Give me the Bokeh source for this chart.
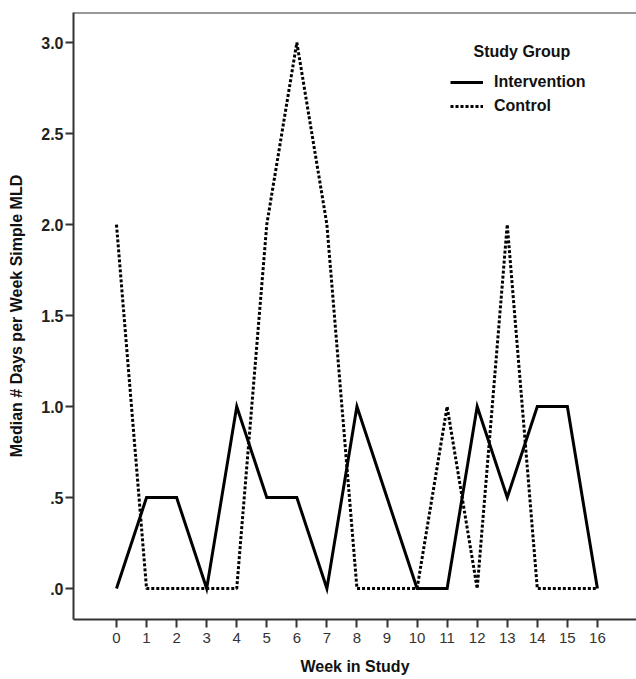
from bokeh.plotting import figure
from bokeh.models import Legend, LegendItem, Label, Span, FixedTicker, Range1d
from bokeh.embed import file_html
from bokeh.resources import INLINE

weeks = list(range(17))
intervention = [0, 0.5, 0.5, 0, 1, 0.5, 0.5, 0, 1, 0.5, 0, 0, 1, 0.5, 1, 1, 0]
control = [2, 0, 0, 0, 0, 2, 3, 2, 0, 0, 0, 1, 0, 2, 0, 0, 0]
y_ticks = [0, 0.5, 1.0, 1.5, 2.0, 2.5, 3.0]
y_tick_labels = [".0", ".5", "1.0", "1.5", "2.0", "2.5", "3.0"]
series_names = ["Intervention", "Control"]
legend_title = "Study Group"
x_title = "Week in Study"
y_title = "Median # Days per Week Simple MLD"

FONT = "Liberation Sans"
AX = "#333333"

p = figure(width=636, height=679, output_backend="svg", toolbar_location=None,
           x_range=Range1d(-1.43, 17.30), y_range=Range1d(-0.170, 3.165),
           min_border_left=73, min_border_top=12, min_border_right=0, min_border_bottom=60)
p.outline_line_color = None
p.grid.visible = False
p.background_fill_color = "white"

r1 = p.line(weeks, intervention, line_color="black", line_width=3, line_join="miter")
r2 = p.line(weeks, control, line_color="black", line_width=3, line_dash="3 2")

top = Span(location=3.165, dimension="width", line_color=AX, line_width=2)
p.add_layout(top)

xa = p.xaxis[0]
xa.ticker = FixedTicker(ticks=weeks)
xa.minor_tick_line_color = None
xa.major_tick_in = 0
xa.major_tick_out = 8
xa.major_tick_line_color = AX
xa.major_tick_line_width = 2
xa.axis_line_color = AX
xa.axis_line_width = 2
xa.major_label_text_font = FONT
xa.major_label_text_font_size = "15px"
xa.major_label_text_color = "#333333"
xa.major_label_standoff = 5
xa.axis_label = x_title
xa.axis_label_text_font = FONT
xa.axis_label_text_font_style = "bold"
xa.axis_label_text_font_size = "16px"
xa.axis_label_text_color = "#111111"
xa.axis_label_standoff = 12

ya = p.yaxis[0]
ya.ticker = FixedTicker(ticks=y_ticks)
ya.major_label_overrides = {t: l for t, l in zip(y_ticks, y_tick_labels)}
ya.minor_tick_line_color = None
ya.major_tick_in = 0
ya.major_tick_out = 8
ya.major_tick_line_color = AX
ya.major_tick_line_width = 2
ya.axis_line_color = AX
ya.axis_line_width = 2
ya.major_label_text_font = FONT
ya.major_label_text_font_style = "bold"
ya.major_label_text_font_size = "16px"
ya.major_label_text_color = "#222222"
ya.major_label_standoff = 2
ya.axis_label = y_title
ya.axis_label_text_font = FONT
ya.axis_label_text_font_style = "bold"
ya.axis_label_text_font_size = "16px"
ya.axis_label_text_color = "#111111"
ya.axis_label_standoff = 13

legend = Legend(items=[LegendItem(label=series_names[0], renderers=[r1]),
                       LegendItem(label=series_names[1], renderers=[r2])],
                location=(377, 502), padding=0, margin=0, spacing=2,
                glyph_width=33, glyph_height=22, label_standoff=11,
                border_line_color=None, background_fill_alpha=0,
                label_text_font=FONT, label_text_font_style="bold",
                label_text_font_size="16px", label_text_color="#111111")
p.add_layout(legend)

title = Label(x=400, y=568, x_units="screen", y_units="screen", text=legend_title,
              text_font=FONT, text_font_style="bold", text_font_size="16px",
              text_color="#111111", text_baseline="middle")
p.add_layout(title)

open("out.html", "w").write(file_html(p, INLINE))
